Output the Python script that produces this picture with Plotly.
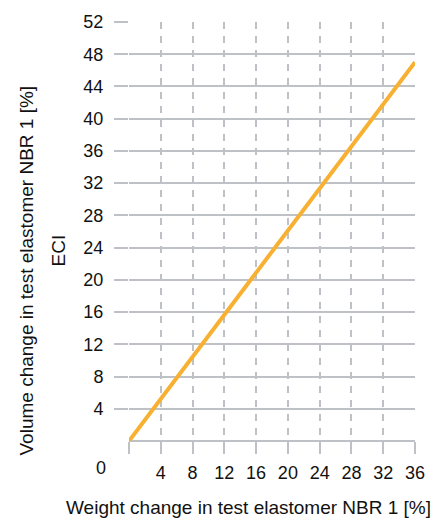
import plotly.graph_objects as go

# Data
weight_change = [0, 36]
volume_change = [0, 47]
x_ticks = [0, 4, 8, 12, 16, 20, 24, 28, 32, 36]
x_tick_text = ["", "4", "8", "12", "16", "20", "24", "28", "32", "36"]
y_ticks = [4, 8, 12, 16, 20, 24, 28, 32, 36, 40, 44, 48, 52]

GRID = "#BEC2C6"
FONT = "Liberation Sans, Arial, Helvetica, sans-serif"
TXT = "#111111"
FS = 18
FT = 19

fig = go.Figure()
fig.add_trace(go.Scatter(
    x=weight_change, y=volume_change, mode="lines",
    line=dict(color="#F8B033", width=4), showlegend=False, hoverinfo="skip",
))

fig.update_layout(
    width=437, height=523,
    margin=dict(l=129, r=19, t=16, b=82),
    paper_bgcolor="white", plot_bgcolor="white",
    font=dict(family=FONT, size=FS, color=TXT),
    xaxis=dict(
        range=[0, 36], tickmode="array", tickvals=x_ticks, ticktext=x_tick_text,
        showgrid=True, gridcolor=GRID, gridwidth=2, griddash="7px,7px",
        zeroline=False, showline=False,
        ticks="outside", ticklen=12, tickwidth=2, tickcolor=GRID,
        tickfont=dict(size=FS, color=TXT), ticklabelstandoff=3,
    ),
    yaxis=dict(
        range=[0, 52], tickmode="array", tickvals=y_ticks,
        showgrid=True, gridcolor=GRID, gridwidth=2,
        zeroline=True, zerolinecolor=GRID, zerolinewidth=2, showline=False,
        ticks="outside", ticklen=14, tickwidth=2, tickcolor=GRID,
        tickfont=dict(size=FS, color=TXT), ticklabelstandoff=7,
    ),
    annotations=[
        dict(text="0", xref="paper", yref="paper", x=(101 - 129) / 289, y=(441 - 468) / 425,
             showarrow=False, xanchor="center", yanchor="middle", font=dict(size=FS, color=TXT)),
        dict(text="Weight change in test elastomer NBR 1 [%]", xref="paper", yref="paper",
             x=(250 - 129) / 289, y=(441 - 508) / 425, showarrow=False,
             xanchor="center", yanchor="middle", font=dict(size=FT, color=TXT)),
        dict(text="Volume change in test elastomer NBR 1 [%]", xref="paper", yref="paper",
             x=(25 - 129) / 289, y=(441 - 268) / 425, showarrow=False, textangle=-90,
             xanchor="center", yanchor="middle", font=dict(size=FT, color=TXT)),
        dict(text="ECI", xref="paper", yref="paper",
             x=(58 - 129) / 289, y=(441 - 248) / 425, showarrow=False, textangle=-90,
             xanchor="center", yanchor="middle", font=dict(size=FT, color=TXT)),
    ],
)

fig.write_html(
    "out.html",
    config={"displayModeBar": False},
    post_script="document.body.style.margin='0';document.body.style.padding='0';",
)
